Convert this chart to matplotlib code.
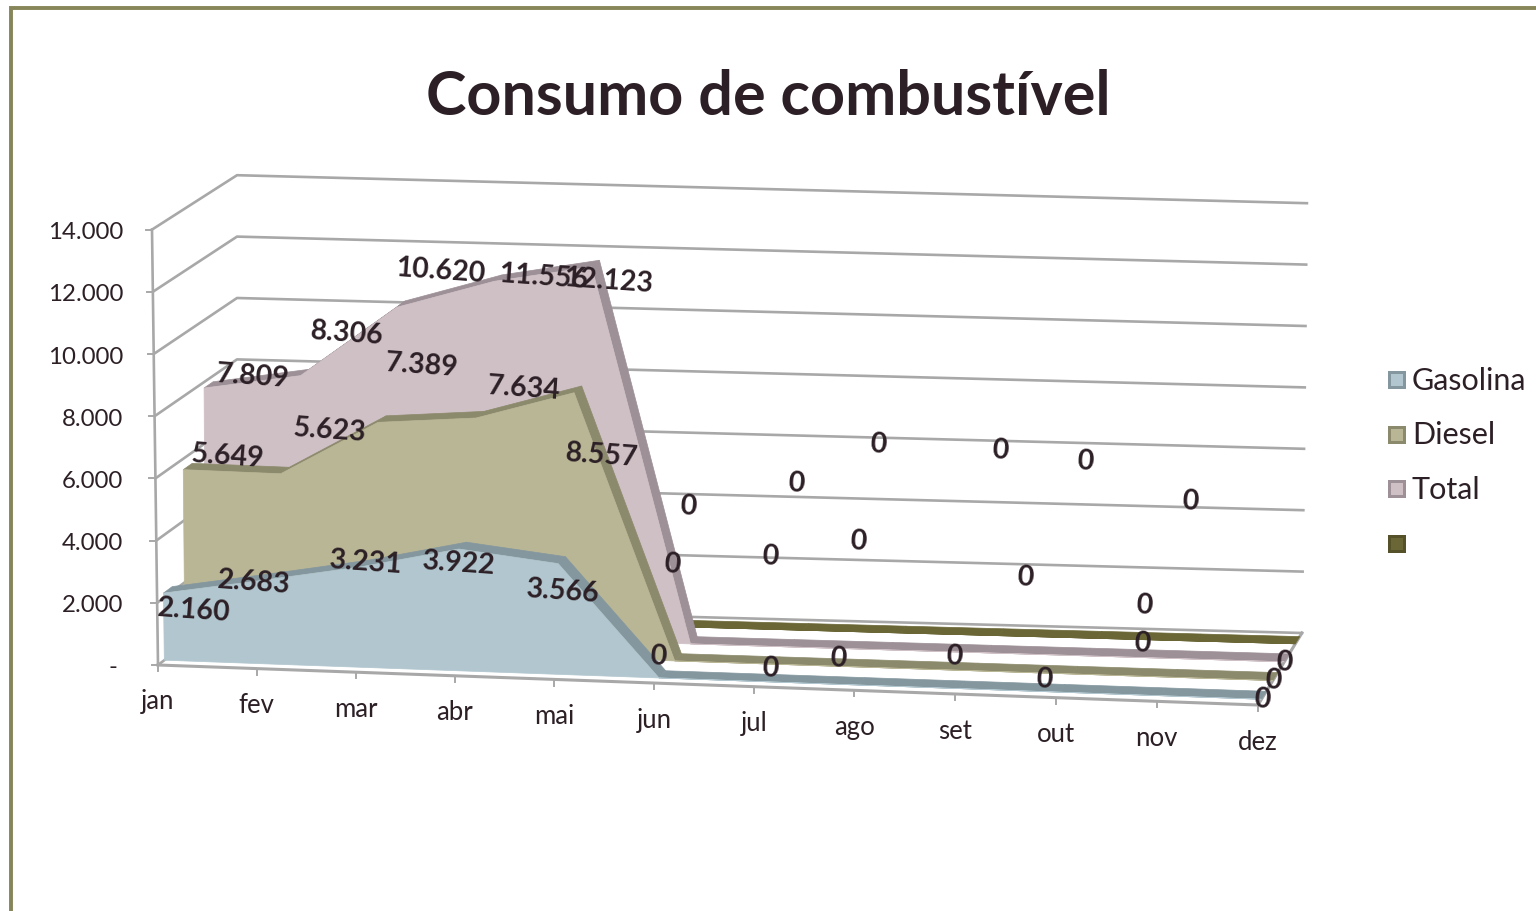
import matplotlib
matplotlib.use("Agg")
import matplotlib.pyplot as plt
from matplotlib.patches import Polygon, Rectangle

months = ["jan", "fev", "mar", "abr", "mai", "jun", "jul", "ago", "set", "out", "nov", "dez"]
gasolina = [2160, 2683, 3231, 3922, 3566, 0, 0, 0, 0, 0, 0, 0]
diesel = [5649, 5623, 7389, 7634, 8557, 0, 0, 0, 0, 0, 0, 0]
total = [7809, 8306, 10620, 11556, 12123, 0, 0, 0, 0, 0, 0, 0]
quarta = [0] * 12
yticks = [0, 2000, 4000, 6000, 8000, 10000, 12000, 14000]
legend_names = ["Gasolina", "Diesel", "Total", ""]

# rotulos foram arrastados a mao no original, por isso posicao em pixel
gas_pos = [(194, 611), (254, 583), (365, 563), (458, 564), (562, 592), (658, 657), (770, 669),
           (838, 659), (954, 657), (1044, 680), (1142, 644), (1262, 700)]
die_pos = [(228, 457), (330, 431), (422, 366), (524, 389), (602, 456), (672, 565), (770, 557),
           (858, 542), (1025, 578), (1144, 606), (1273, 681)]
tot_pos = [(253, 377), (347, 334), (440, 271), (543, 277), (608, 281), (688, 507), (796, 484),
           (878, 445), (1000, 451), (1085, 462), (1190, 502), (1284, 663)]

INK = "#2c2026"
GRID = "#a8a8a8"
BORDER = "#87855a"
FONT = "Lato"


def project(m, v, d):
    """mes (0-11), valor e profundidade (0-1) para pixel da imagem"""
    fx, fy = 158 + 98.6 * m + 0.127 * m * m, 665 + 40 * m / 11
    bx, by = 237 + 94.5 * m + 0.21 * m * m, 605 + 28 * m / 11
    scale = 0.0311 + d * (0.0307 - 0.0311)
    tilt = v / 14000 * ((1 - d) * -6 + d * 5 * m / 11)
    return fx + d * (bx - fx) + tilt, fy + d * (by - fy) - v * scale


def draw_series(ax, values, d0, thick, face, top, z):
    n = len(values)
    for i in range(n - 1):
        quad = [project(i, values[i], d0), project(i + 1, values[i + 1], d0),
                project(i + 1, values[i + 1], d0 + thick), project(i, values[i], d0 + thick)]
        ax.add_patch(Polygon(quad, fc=top, ec=top, lw=0.5, zorder=z))
    front = [project(i, values[i], d0) for i in range(n)]
    front += [project(i, 0, d0) for i in range(n - 1, -1, -1)]
    ax.add_patch(Polygon(front, fc=face, ec=face, lw=0.5, zorder=z + 0.5))


def fmt(v):
    return f"{v:,}".replace(",", ".")


def main():
    fig = plt.figure(figsize=(15.36, 9.11), dpi=100)
    ax = fig.add_axes([0, 0, 1, 1])
    ax.set_xlim(0, 1536)
    ax.set_ylim(911, 0)
    ax.axis("off")

    # moldura: so topo e esquerda aparecem
    ax.plot([10.5, 10.5, 1536], [911, 7.5, 7.5], color=BORDER, lw=2.8, solid_joinstyle="miter")

    ax.text(768, 97, "Consumo de combustível", fontsize=44, fontweight="bold", family=FONT,
            color=INK, ha="center", va="center")

    # paredes
    for v in yticks:
        pts = [project(0, v, 0), project(0, v, 1), project(11, v, 1)]
        ax.plot(*zip(*pts), color=GRID, lw=1.9, zorder=1)
        x0, y0 = project(0, v, 0)
        ax.plot([x0 - 6, x0], [y0, y0], color=GRID, lw=1.4, zorder=1)
        label = fmt(v) if v else "-"
        ax.text(123 if v else 117, y0 + 3, label, fontsize=17.3, family=FONT, color=INK,
                ha="right", va="center")
    ax.plot(*zip(project(0, 0, 0), project(0, 14000, 0)), color=GRID, lw=1.9, zorder=1)

    # chao
    floor = [project(0, 0, 0), project(11, 0, 0), project(11, 0, 1)]
    ax.plot(*zip(*floor), color=GRID, lw=2.2, zorder=1)
    for m, name in enumerate(months):
        x, y = project(m, 0, 0)
        ax.plot([x, x], [y, y + 6], color=GRID, lw=1.4, zorder=1)
        ax.text(x, y + 37, name, fontsize=18.5, family=FONT, color=INK, ha="center", va="center")

    # de tras para frente
    draw_series(ax, quarta, 0.85, 0.10, "#6a6636", "#6a6636", 2)
    draw_series(ax, total, 0.60, 0.11, "#cfc0c5", "#9d9097", 3)
    draw_series(ax, diesel, 0.34, 0.11, "#b9b696", "#8c8a6c", 4)
    draw_series(ax, gasolina, 0.08, 0.11, "#b1c6ce", "#84979f", 5)

    for values, pos in [(gasolina, gas_pos), (diesel, die_pos), (total, tot_pos)]:
        for v, (x, y) in zip(values, pos):
            ax.text(x, y, fmt(v), fontsize=20.5, fontweight="bold", family=FONT, color=INK,
                    ha="center", va="center", rotation=-4, zorder=10)

    # legenda
    swatches = [("#b1c6ce", "#84979f"), ("#b9b696", "#8c8a6c"), ("#cfc0c5", "#9d9097"), ("#6a6636", "#55522a")]
    for i, (name, (face, edge)) in enumerate(zip(legend_names, swatches)):
        y = 380 + i * 54.5
        ax.add_patch(Rectangle((1388, y - 9), 18, 18, fc=edge, ec="none", zorder=6))
        ax.add_patch(Rectangle((1391, y - 6), 12, 12, fc=face, ec="none", zorder=7))
        ax.text(1412, y + 1, name, fontsize=22, family=FONT, color=INK, ha="left", va="center")

    fig.savefig("out.png", dpi=100)


if __name__ == "__main__":
    main()
